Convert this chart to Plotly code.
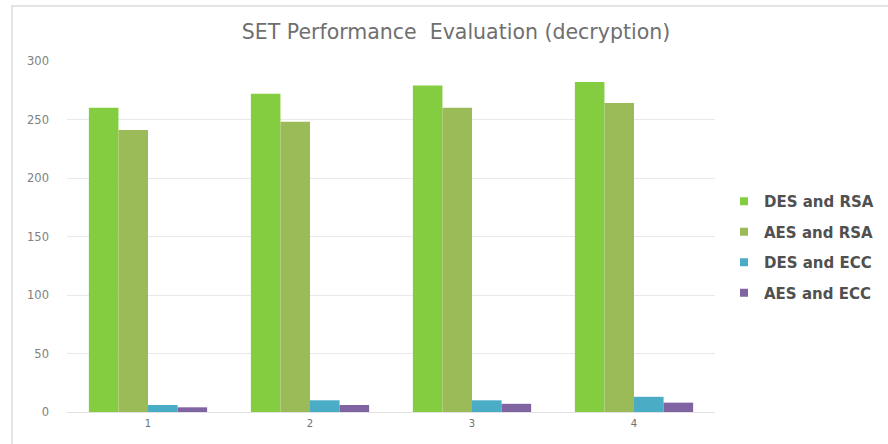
import plotly.graph_objects as go

# Test scenarios on the x axis
categories = ["1", "2", "3", "4"]

# Decryption time for each cipher combination
des_rsa = [260, 272, 279, 282]
aes_rsa = [241, 248, 260, 264]
des_ecc = [6, 10, 10, 13]
aes_ecc = [4, 6, 7, 8]

series_names = ["DES and RSA", "AES and RSA", "DES and ECC", "AES and ECC"]
series_values = [des_rsa, aes_rsa, des_ecc, aes_ecc]
series_colors = ["#84cd40", "#9bbb59", "#4bacc6", "#8064a2"]

y_ticks = [0, 50, 100, 150, 200, 250, 300]

FONT = "DejaVu Sans"

fig = go.Figure()
for i, (name, vals, col) in enumerate(zip(series_names, series_values, series_colors)):
    fig.add_trace(go.Bar(
        x=categories, y=vals, name=name,
        marker=dict(color=col, line=dict(width=0)),
        showlegend=False,
    ))
# Small square legend keys
for i, (name, col) in enumerate(zip(series_names, series_colors)):
    fig.add_trace(go.Scatter(
        x=[None], y=[None], name=name, mode="markers",
        marker=dict(symbol="square", size=8, color=col),
        legendgroup=f"g{i}",
    ))

W, H = 888, 444
L, R, T, B = 67, 173, 61, 32
pw = W - L - R
ph = H - T - B

def px_x(p):
    return (p - L) / pw

def px_y(p):
    return (H - B - p) / ph

fig.update_layout(
    width=W, height=H,
    margin=dict(l=L, r=R, t=T, b=B, pad=0, autoexpand=False),
    paper_bgcolor="white",
    plot_bgcolor="white",
    barmode="group",
    bargap=0.27,
    bargroupgap=0,
    font=dict(family=FONT, color="#595959"),
    title=dict(
        text="SET Performance  Evaluation (decryption)",
        x=px_x(456), xref="paper", xanchor="center",
        y=1 - 32 / H, yanchor="middle",
        font=dict(size=20.5, color="#6f6f6f", family=FONT),
    ),
    xaxis=dict(
        type="category",
        showgrid=False,
        showline=True, linecolor="#e3e3e3", linewidth=1,
        ticks="", tickfont=dict(size=10, color="#707070", family=FONT),
        ticklabelstandoff=2,
    ),
    yaxis=dict(
        range=[0, 300],
        tickvals=y_ticks,
        showgrid=True, gridcolor="#e9e9e9", gridwidth=1,
        zeroline=False,
        showline=False,
        ticks="", tickfont=dict(size=11.5, color="#808080", family=FONT),
        ticklabelstandoff=17,
    ),
    legend=dict(
        x=px_x(724), xanchor="left",
        y=px_y(185), yanchor="top",
        font=dict(size=15, color="#505050", family=FONT, weight="bold"),
        tracegroupgap=8,
        itemwidth=30,
        bgcolor="rgba(0,0,0,0)",
    ),
    showlegend=True,
)

# Chart-area frame
fig.add_shape(
    type="rect", xref="paper", yref="paper",
    x0=px_x(12), x1=px_x(900), y0=px_y(470), y1=px_y(6),
    line=dict(color="#dcdcdc", width=1.5), fillcolor="rgba(0,0,0,0)",
    layer="below",
)

fig.write_html("out.html")
